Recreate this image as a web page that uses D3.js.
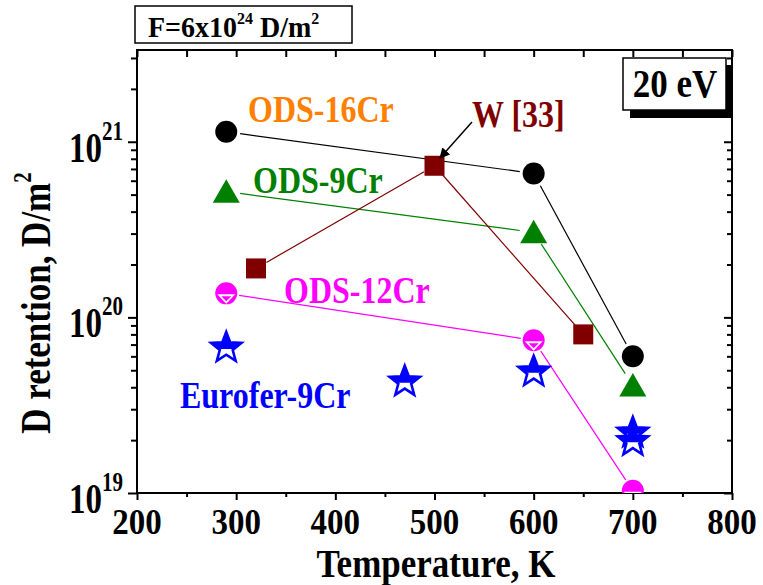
<!DOCTYPE html>
<html>
<head>
<meta charset="utf-8">
<script src="https://cdn.jsdelivr.net/npm/d3@7"></script>
<style>
  body { margin: 0; background: #fff; }
  svg text { font-family: "Liberation Serif", "Times New Roman", serif; font-weight: bold; }
</style>
</head>
<body>
<script>
// values
var xTicks = [200, 300, 400, 500, 600, 700, 800];
var yMajor = [1e19, 1e20, 1e21];
var yExp = ["19", "20", "21"];

var temps16 = [290, 600, 700];
var ods16 = [1.14e21, 6.6e20, 6.0e19];
var temps9 = [290, 600, 700];
var ods9 = [5.2e20, 3.05e20, 4.1e19];
var tempsW = [320, 500, 650];
var wVals = [1.9e20, 7.3e20, 8.0e19];
var temps12 = [290, 600, 700];
var ods12 = [1.37e20, 7.4e19, 1.03e19];
var tempsEu = [290, 470, 600, 700, 700];
var euro = [6.7e19, 4.3e19, 4.9e19, 2.2e19, 1.97e19];

var screen = {width: 763, height: 585}
var margins = {top: 50, left: 137, right: 31, bottom: 92}
var width = screen.width - margins.left - margins.right
var height = screen.height - margins.top - margins.bottom

var xScale = d3.scaleLinear().domain([200, 800]).range([0, width])
var yScale = d3.scaleLog().domain([1e19, 3.33e21]).range([height, 0])

var svg = d3.select("body").append("svg")
  .attr("width", screen.width)
  .attr("height", screen.height)

var defs = svg.append("defs")
defs.append("clipPath").attr("id", "plotClip")
  .append("rect").attr("x", 0).attr("y", 0).attr("width", width).attr("height", height)
defs.append("clipPath").attr("id", "topHalf")
  .append("rect").attr("x", -30).attr("y", -30).attr("width", 60).attr("height", 31)

var plot = svg.append("g").attr("transform", "translate(" + margins.left + "," + margins.top + ")")

// minor tick values
var xMinor = d3.range(250, 800, 100)
var yMinor = []
;[1e19, 1e20, 1e21].forEach(function(d) {
  for (var k = 2; k <= 9; k++) if (d * k <= 3.33e21) yMinor.push(d * k)
})

var styleAxis = function(g) {
  g.select(".domain").remove()
  g.selectAll("line").attr("stroke", "#000").attr("stroke-width", 2)
}

plot.append("g").attr("transform", "translate(0," + height + ")")
  .call(d3.axisBottom(xScale).tickValues(xTicks).tickSize(7).tickFormat(""))
  .call(styleAxis)
plot.append("g").attr("transform", "translate(0," + height + ")")
  .call(d3.axisBottom(xScale).tickValues(xMinor).tickSize(4).tickFormat(""))
  .call(styleAxis)
plot.append("g")
  .call(d3.axisBottom(xScale).tickValues(xTicks.concat(xMinor)).tickSize(7).tickFormat(""))
  .call(styleAxis)
plot.append("g")
  .call(d3.axisLeft(yScale).tickValues(yMajor).tickSize(9).tickFormat(""))
  .call(styleAxis)
plot.append("g")
  .call(d3.axisLeft(yScale).tickValues(yMinor).tickSize(6).tickFormat(""))
  .call(styleAxis)
plot.append("g").attr("transform", "translate(" + width + ",0)")
  .call(d3.axisRight(yScale).tickValues(yMajor).tickSize(-8).tickFormat(""))
  .call(styleAxis)
plot.append("g").attr("transform", "translate(" + width + ",0)")
  .call(d3.axisRight(yScale).tickValues(yMinor).tickSize(-5).tickFormat(""))
  .call(styleAxis)

plot.append("rect")
  .attr("width", width).attr("height", height)
  .attr("fill", "none").attr("stroke", "#000").attr("stroke-width", 2)

// text helper, the original lettering is tall and narrow
var addText = function(parent, x, y, size, color, anchor, sy) {
  return parent.append("text")
    .attr("transform", "translate(" + x + "," + y + ") scale(1," + sy + ")")
    .attr("font-size", size)
    .attr("fill", color)
    .attr("text-anchor", anchor)
}

// x tick labels
xTicks.forEach(function(t) {
  addText(plot, xScale(t), height + 41, 33, "#000", "middle", 1.1).text(t)
})
// y tick labels with exponents
yMajor.forEach(function(v, i) {
  var t = addText(plot, -14, yScale(v) + 20, 33, "#000", "end", 1.3)
  t.append("tspan").text("10")
  t.append("tspan").attr("font-size", 21).attr("dy", -17).text(yExp[i])
})

addText(svg, 436, 577, 35, "#000", "middle", 1.12).text("Temperature, K")

var yt = svg.append("text")
  .attr("transform", "translate(50,303) rotate(-90) scale(1,1.2)")
  .attr("font-size", 35).attr("text-anchor", "middle").attr("fill", "#000")
yt.append("tspan").text("D retention, D/m")
yt.append("tspan").attr("font-size", 21).attr("dy", -16).text("2")

// series lines, trimmed so they stop short of the markers
var drawLine = function(temps, vals, color, gap) {
  for (var i = 0; i < temps.length - 1; i++) {
    var x1 = xScale(temps[i]), y1 = yScale(vals[i])
    var x2 = xScale(temps[i + 1]), y2 = yScale(vals[i + 1])
    var len = Math.hypot(x2 - x1, y2 - y1)
    var ux = (x2 - x1) / len, uy = (y2 - y1) / len
    plot.append("line")
      .attr("x1", x1 + ux * gap).attr("y1", y1 + uy * gap)
      .attr("x2", x2 - ux * gap).attr("y2", y2 - uy * gap)
      .attr("stroke", color).attr("stroke-width", 1.2)
  }
}
drawLine(temps16, ods16, "#000", 14)
drawLine(temps9, ods9, "#008000", 14)
drawLine(tempsW, wVals, "#800000", 12)
drawLine(temps12, ods12, "#ff00ff", 13)

var marks = plot.append("g").attr("clip-path", "url(#plotClip)")

var place = function(temps, vals) {
  return marks.append("g").selectAll("g")
    .data(temps.map(function(t, i) { return {t: t, v: vals[i]} }))
    .enter().append("g")
    .attr("transform", function(d) { return "translate(" + xScale(d.t) + "," + yScale(d.v) + ")" })
}

place(temps16, ods16).append("circle").attr("r", 11).attr("fill", "#000")

place(temps9, ods9).append("path")
  .attr("d", "M0,-12.5L13.5,11L-13.5,11Z").attr("fill", "#008000")

place(tempsW, wVals).append("rect")
  .attr("x", -10).attr("y", -10).attr("width", 20).attr("height", 20)
  .attr("fill", "#800000")

var m12 = place(temps12, ods12)
m12.append("circle").attr("r", 11).attr("fill", "#ff00ff")
m12.append("path").attr("d", "M-9,1L9,1L0,10.5Z").attr("fill", "#fff")
m12.append("path").attr("d", "M-5,3L5,3L0,8Z").attr("fill", "#ff00ff")

var starPath = function(R, r) {
  var p = d3.path()
  for (var k = 0; k < 10; k++) {
    var a = -Math.PI / 2 + k * Math.PI / 5
    var rr = k % 2 === 0 ? R : r
    if (k === 0) p.moveTo(rr * Math.cos(a), rr * Math.sin(a))
    else p.lineTo(rr * Math.cos(a), rr * Math.sin(a))
  }
  p.closePath()
  return p.toString()
}
var stars = place(tempsEu, euro)
stars.append("path").attr("d", starPath(16, 6.8))
  .attr("fill", "#fff").attr("stroke", "#0000ff").attr("stroke-width", 2.6)
  .attr("stroke-linejoin", "miter")
stars.append("path").attr("d", starPath(16, 6.8))
  .attr("fill", "#0000ff").attr("clip-path", "url(#topHalf)")

// series labels
addText(svg, 248, 122, 32, "#ff8000", "start", 1.2).text("ODS-16Cr")
addText(svg, 253, 193, 32, "#008000", "start", 1.2).text("ODS-9Cr")
addText(svg, 472, 127, 32, "#800000", "start", 1.2).text("W [33]")
addText(svg, 284, 303, 32, "#ff00ff", "start", 1.2).text("ODS-12Cr")
addText(svg, 180, 408, 32, "#0000ff", "start", 1.2).text("Eurofer-9Cr")

// arrow to the W point
defs.append("marker").attr("id", "arrow")
  .attr("viewBox", "0 0 10 10").attr("refX", 9).attr("refY", 5)
  .attr("markerWidth", 7).attr("markerHeight", 7).attr("orient", "auto")
  .append("path").attr("d", "M0,0L10,5L0,10Z").attr("fill", "#000")
svg.append("line")
  .attr("x1", 472).attr("y1", 122).attr("x2", 440).attr("y2", 158)
  .attr("stroke", "#000").attr("stroke-width", 1.5)
  .attr("marker-end", "url(#arrow)")

// fluence box
svg.append("rect").attr("x", 135).attr("y", 6).attr("width", 217).attr("height", 37)
  .attr("fill", "#fff").attr("stroke", "#000").attr("stroke-width", 1.5)
var ft = addText(svg, 148, 37, 28, "#000", "start", 1.05)
ft.append("tspan").text("F=6x10")
ft.append("tspan").attr("font-size", 16).attr("dy", -12).text("24")
ft.append("tspan").attr("dy", 12).text(" D/m")
ft.append("tspan").attr("font-size", 16).attr("dy", -12).text("2")

// energy box with shadow
svg.append("rect").attr("x", 630).attr("y", 65).attr("width", 101).attr("height", 53).attr("fill", "#000")
svg.append("rect").attr("x", 623).attr("y", 58).attr("width", 103).attr("height", 52)
  .attr("fill", "#fff").attr("stroke", "#000").attr("stroke-width", 1.5)
addText(svg, 675, 97, 35, "#000", "middle", 1.12).text("20 eV")
</script>
</body>
</html>
